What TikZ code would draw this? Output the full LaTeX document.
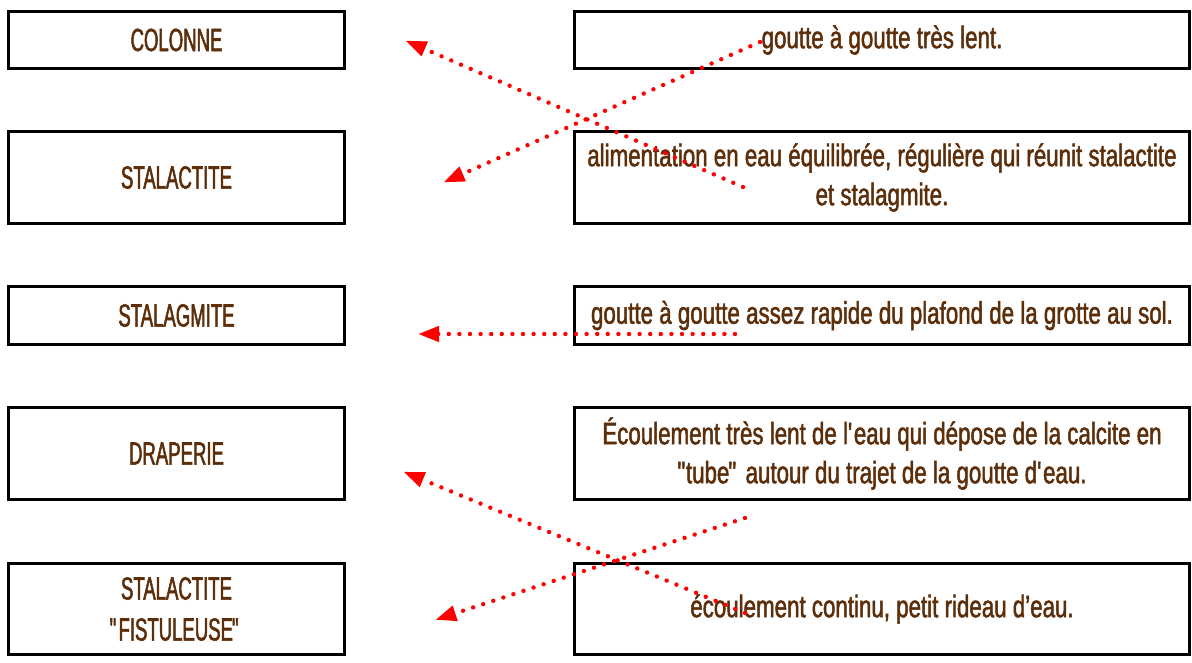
\documentclass[tikz,border=0pt]{standalone}
\usepackage{fontspec}
\setmainfont[FakeStretch=0.72,FakeBold=1.6]{Liberation Sans}
\newfontfamily\majuscules[FakeStretch=0.58,FakeBold=1.6]{Liberation Sans}
\usetikzlibrary{arrows.meta}
\definecolor{brunTexte}{RGB}{92,46,10}
\newcommand{\guilOuv}{\textquotedbl\kern-2.5pt}
\newcommand{\guilFerm}{\kern-1pt\textquotedbl}

\begin{document}
\begin{tikzpicture}[x=1pt,y=-1pt,
		case/.style={draw, line width=3pt, inner sep=0pt, align=center,
			text=brunTexte, font=\fontsize{31}{39}\selectfont},
		gauche/.style={case, minimum width=336pt, font=\fontsize{32}{41}\majuscules},
		droite/.style={case, minimum width=615pt},
		fleche/.style={red, line width=4.4pt, line cap=round, dash pattern=on 0pt off 10.6pt,
			-{Triangle[length=21pt,width=15pt]}, shorten >=-6pt}]
				\useasboundingbox (0,0) rectangle (1192,663);
				
				% colonne de gauche
				\node[gauche, minimum height=57pt] (colonne) at (176.5,40) {COLONNE};
				\node[gauche, minimum height=92pt] (stalactite) at (176.5,177.5) {STALACTITE};
				\node[gauche, minimum height=58pt] (stalagmite) at (176.5,315.5) {STALAGMITE};
				\node[gauche, minimum height=92pt] (draperie) at (176.5,453.5) {DRAPERIE};
				\node[gauche, minimum height=91pt] (fistuleuse) at (176.5,609) {STALACTITE\\\guilOuv FISTULEUSE\guilFerm};
				
				% colonne de droite
				\node[droite, minimum height=57pt] (lent) at (882,40) {goutte à goutte très lent.};
				\node[droite, minimum height=92pt] (alim) at (882,177.5) {alimentation en eau équilibrée, régulière qui réunit stalactite\\et stalagmite.};
				\node[droite, minimum height=58pt] (rapide) at (882,315.5) {goutte à goutte assez rapide du plafond de la grotte au sol.};
				\node[droite, minimum height=92pt] (tube) at (882,453.5) {Écoulement très lent de l\textquotesingle eau qui dépose de la calcite en\\\guilOuv tube\guilFerm{} autour du trajet de la goutte d\textquotesingle eau.};
				\node[droite, minimum height=91pt] (rideau) at (882,609) {écoulement continu, petit rideau d’eau.};
				
				% extremites des fleches
				\coordinate (dAlim) at (743,187);
				\coordinate (dLent) at (760,42);
				\coordinate (dRapide) at (735,334);
				\coordinate (dRideau) at (745,613);
				\coordinate (dTube) at (745,518);
				\coordinate (fColonne) at (411,43);
				\coordinate (fStalactite) at (449,180);
				\coordinate (fStalagmite) at (424,334);
				\coordinate (fDraperie) at (409,474);
				\coordinate (fFistuleuse) at (441,618);
				
				\draw[fleche] (dAlim) -- (fColonne);
				\draw[fleche] (dLent) -- (fStalactite);
				\draw[fleche] (dRapide) -- (fStalagmite);
				\draw[fleche] (dRideau) -- (fDraperie);
				\draw[fleche] (dTube) -- (fFistuleuse);
			\end{tikzpicture}
\end{document}
